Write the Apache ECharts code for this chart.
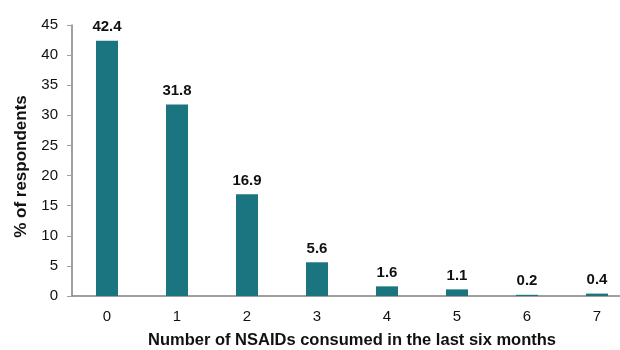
<!DOCTYPE html>
<html>
<head>
<meta charset="utf-8">
<script src="https://cdn.jsdelivr.net/npm/echarts@6/dist/echarts.min.js"></script>
<style>
  html, body { margin: 0; padding: 0; background: #fff; overflow: hidden; }
  /* 图表比窗口略宽，最右边被裁掉，和原图一样 */
  #chart { width: 634px; height: 350px; }
</style>
</head>
<body>
<div id="chart"></div>
<script>
// 数据
var categories = ['0', '1', '2', '3', '4', '5', '6', '7'];
var percentValues = [42.4, 31.8, 16.9, 5.6, 1.6, 1.1, 0.2, 0.4];

var barColor = '#1a7580';
var fontFamily = 'Liberation Sans, Arial, sans-serif';

var chart = echarts.init(document.getElementById('chart'));
var option = {
    animation: false,
    grid: {
        left: 72,
        right: 2,
        top: 25,
        bottom: 54,
        outerBoundsMode: 'none'
    },
    xAxis: {
        type: 'category',
        data: categories,
        name: 'Number of NSAIDs consumed in the last six months',
        nameLocation: 'middle',
        nameGap: 36,
        nameTextStyle: {
            fontFamily: fontFamily,
            fontWeight: 'bold',
            fontSize: 16.5,
            color: '#111'
        },
        axisLine: { lineStyle: { color: '#808080', width: 1.5 } },
        axisTick: { alignWithLabel: true, length: 5, lineStyle: { color: '#c8c8c8' } },
        axisLabel: {
            fontFamily: fontFamily,
            fontSize: 15,
            color: '#111',
            margin: 13
        }
    },
    yAxis: {
        type: 'value',
        min: 0,
        max: 45,
        interval: 5,
        name: '% of respondents',
        nameLocation: 'middle',
        nameGap: 42,
        nameRotate: 90,
        nameTextStyle: {
            fontFamily: fontFamily,
            fontWeight: 'bold',
            fontSize: 17,
            color: '#111',
            padding: [0, 12, 0, 0]
        },
        splitLine: { show: false },
        axisLine: { show: true, lineStyle: { color: '#808080', width: 1.5 } },
        axisTick: { show: true, length: 5, lineStyle: { color: '#a0a0a0' } },
        axisLabel: {
            fontFamily: fontFamily,
            fontSize: 15,
            color: '#111',
            margin: 14
        }
    },
    series: [{
        type: 'bar',
        data: percentValues,
        barWidth: 22,
        itemStyle: { color: barColor },
        label: {
            show: true,
            position: 'top',
            distance: 6,
            fontFamily: fontFamily,
            fontWeight: 'bold',
            fontSize: 15,
            color: '#111',
            formatter: function (p) { return p.value.toFixed(1); }
        }
    }]
};
chart.setOption(option);
</script>
</body>
</html>
